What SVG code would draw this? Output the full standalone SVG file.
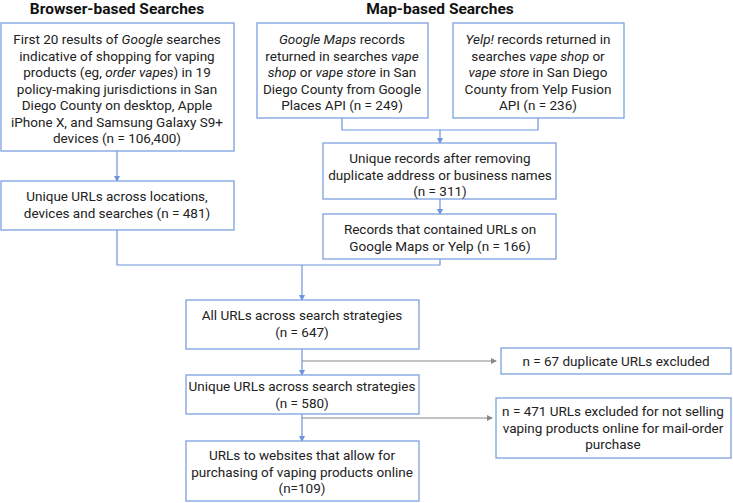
<svg xmlns="http://www.w3.org/2000/svg" width="733" height="503" viewBox="0 0 733 503">
<style>
rect{fill:#fff;stroke:#7da0e0;stroke-width:1.3}
text{font-family:Roboto,"Liberation Sans",sans-serif;font-size:13.5px;fill:#222;text-anchor:middle}
.t{font-weight:bold;font-size:15.5px;fill:#111}
.b{fill:none;stroke:#6f93dd;stroke-width:1.2}
.g{fill:none;stroke:#888;stroke-width:1}
</style>
<defs>
<marker id="ab" markerWidth="6" markerHeight="6" refX="5" refY="3" orient="auto" markerUnits="userSpaceOnUse"><path d="M0,0L6,3L0,6z" fill="#6f93dd"/></marker>
<marker id="ag" markerWidth="6" markerHeight="6" refX="5" refY="3" orient="auto" markerUnits="userSpaceOnUse"><path d="M0,0L6,3L0,6z" fill="#888"/></marker>
</defs>
<text class="t" x="117" y="14">Browser-based Searches</text>
<text class="t" x="440" y="14">Map-based Searches</text>
<g id="connectors">
<path class="b" d="M117,151V181" marker-end="url(#ab)"/>
<path class="b" d="M342,118V130H538V118M440,130V143" marker-end="url(#ab)"/>
<path class="b" d="M440,199V214" marker-end="url(#ab)"/>
<path class="b" d="M117,230V265H440V259M302,265V300" marker-end="url(#ab)"/>
<path class="b" d="M302,349V375" marker-end="url(#ab)"/>
<path class="b" d="M302,414V441" marker-end="url(#ab)"/>
<path class="g" d="M302,361H496" marker-end="url(#ag)"/>
<path class="g" d="M302,418H492" marker-end="url(#ag)"/>
</g>
<g id="n1"><rect x="1" y="23" width="233" height="128"/>
<text x="117" y="44">First 20 results of <tspan font-style="italic">Google</tspan> searches</text>
<text x="117" y="60.5">indicative of shopping for vaping</text>
<text x="117" y="77">products (eg, <tspan font-style="italic">order vapes</tspan>) in 19</text>
<text x="117" y="93.5">policy-making jurisdictions in San</text>
<text x="117" y="110">Diego County on desktop, Apple</text>
<text x="117" y="126.5">iPhone X, and Samsung Galaxy S9+</text>
<text x="117" y="143">devices (n = 106,400)</text></g>
<g id="n2"><rect x="1" y="181" width="233" height="49"/>
<text x="117" y="201">Unique URLs across locations,</text>
<text x="117" y="217.5">devices and searches (n = 481)</text></g>
<g id="n3"><rect x="257" y="23" width="171" height="95"/>
<text x="342" y="44"><tspan font-style="italic">Google Maps</tspan> records</text>
<text x="342" y="60.5">returned in searches <tspan font-style="italic">vape</tspan></text>
<text x="342" y="77"><tspan font-style="italic">shop</tspan> or <tspan font-style="italic">vape store</tspan> in San</text>
<text x="342" y="93.5">Diego County from Google</text>
<text x="342" y="110">Places API (n = 249)</text></g>
<g id="n4"><rect x="453" y="23" width="171" height="95"/>
<text x="538" y="44"><tspan font-style="italic">Yelp!</tspan> records returned in</text>
<text x="538" y="60.5">searches <tspan font-style="italic">vape shop</tspan> or</text>
<text x="538" y="77"><tspan font-style="italic">vape store</tspan> in San Diego</text>
<text x="538" y="93.5">County from Yelp Fusion</text>
<text x="538" y="110">API (n = 236)</text></g>
<g id="n5"><rect x="323" y="143" width="233" height="56"/>
<text x="440" y="163">Unique records after removing</text>
<text x="440" y="179.5">duplicate address or business names</text>
<text x="440" y="196">(n = 311)</text></g>
<g id="n6"><rect x="323" y="214" width="233" height="45"/>
<text x="440" y="234">Records that contained URLs on</text>
<text x="440" y="250.5">Google Maps or Yelp (n = 166)</text></g>
<g id="n7"><rect x="186" y="300" width="233" height="49"/>
<text x="302" y="320">All URLs across search strategies</text>
<text x="302" y="336.5">(n = 647)</text></g>
<g id="n8"><rect x="501" y="348" width="230" height="26"/>
<text x="616" y="366">n = 67 duplicate URLs excluded</text></g>
<g id="n9"><rect x="186" y="375" width="233" height="39"/>
<text x="302" y="391">Unique URLs across search strategies</text>
<text x="302" y="407.5">(n = 580)</text></g>
<g id="n10"><rect x="496" y="398" width="235" height="60"/>
<text x="613" y="416">n = 471 URLs excluded for not selling</text>
<text x="613" y="432.5">vaping products online for mail-order</text>
<text x="613" y="449">purchase</text></g>
<g id="n11"><rect x="186" y="441" width="233" height="60"/>
<text x="302" y="460">URLs to websites that allow for</text>
<text x="302" y="476.5">purchasing of vaping products online</text>
<text x="302" y="493">(n=109)</text></g>
</svg>
